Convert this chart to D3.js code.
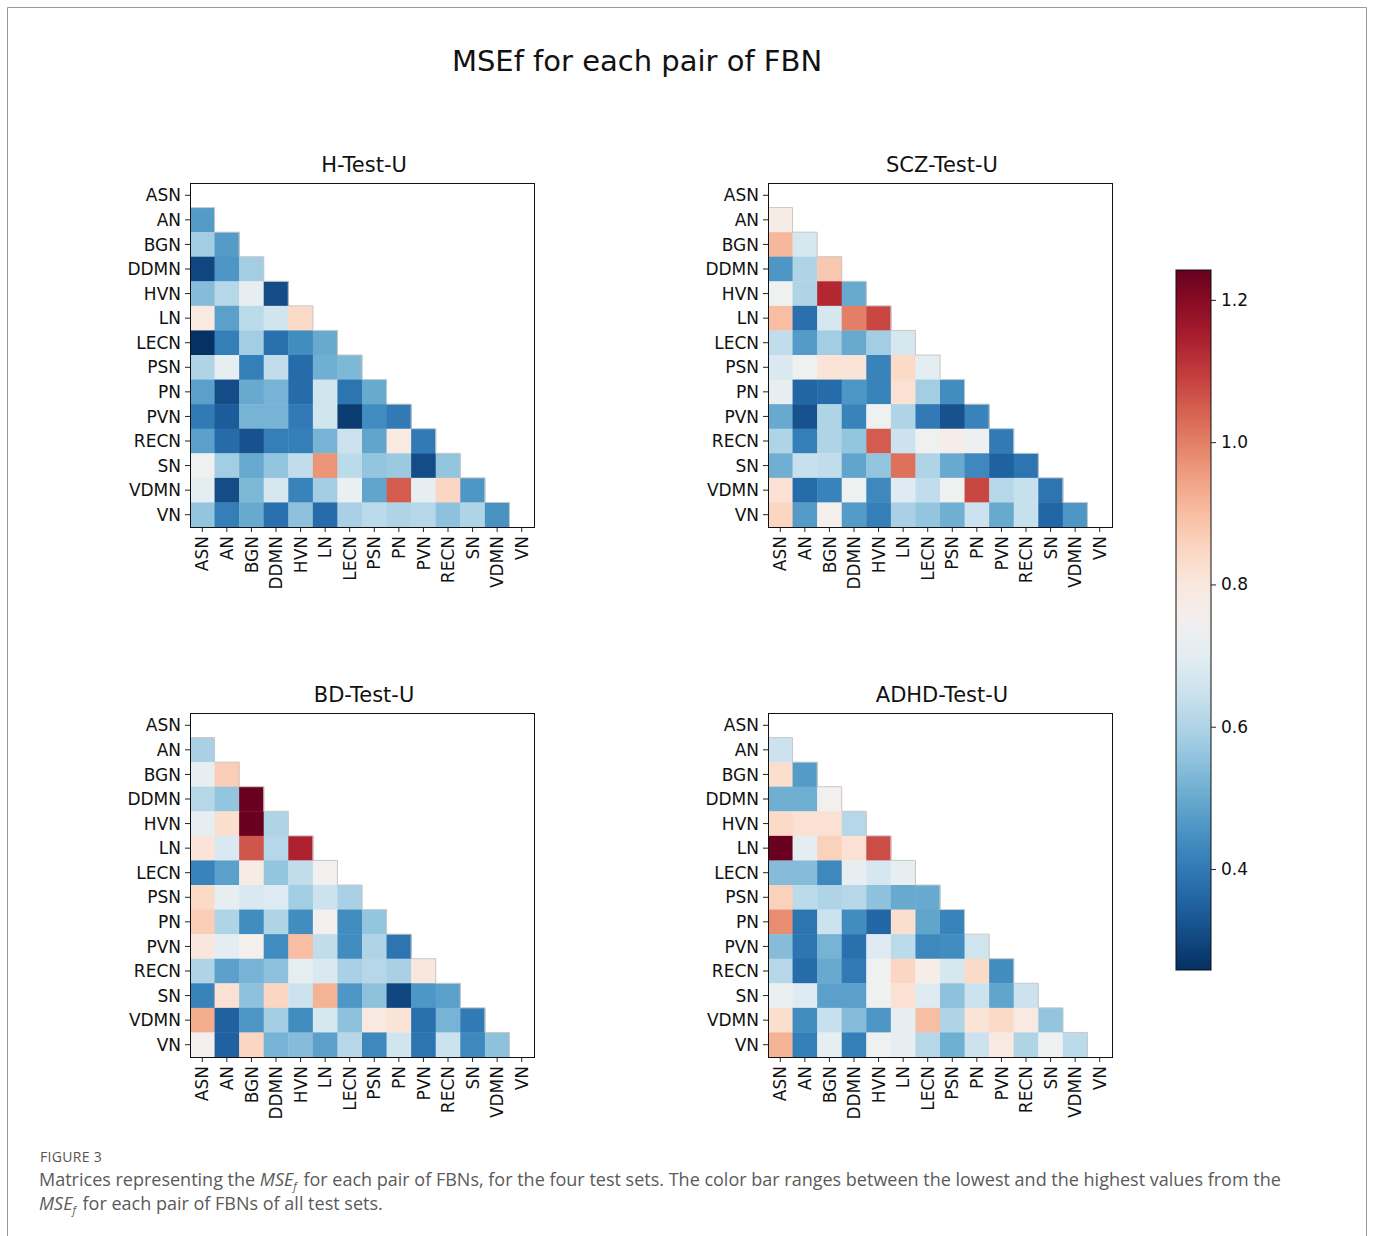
<!DOCTYPE html>
<html>
<head>
<meta charset="utf-8">
<script src="https://cdn.jsdelivr.net/npm/d3@7"></script>
<style>
  html, body { margin: 0; padding: 0; background: #fff; }
  svg { display: block; }
</style>
</head>
<body>
<svg id="fig" width="1373" height="1236"></svg>
<script>
// Functional brain networks (row/column order of every matrix)
const networks = ["ASN", "AN", "BGN", "DDMN", "HVN", "LN", "LECN", "PSN", "PN", "PVN", "RECN", "SN", "VDMN", "VN"];

// Lower-triangle MSEf values: row i holds pairs (i, 0..i-1), starting at AN
const hTestU = [
  [0.47],
  [0.58, 0.47],
  [0.30, 0.46, 0.58],
  [0.54, 0.61, 0.71, 0.31],
  [0.79, 0.48, 0.62, 0.66, 0.84],
  [0.26, 0.41, 0.58, 0.38, 0.44, 0.50],
  [0.60, 0.71, 0.41, 0.63, 0.37, 0.51, 0.53],
  [0.48, 0.31, 0.50, 0.52, 0.37, 0.66, 0.39, 0.50],
  [0.40, 0.34, 0.52, 0.52, 0.40, 0.66, 0.28, 0.44, 0.40],
  [0.48, 0.37, 0.32, 0.41, 0.41, 0.52, 0.65, 0.49, 0.79, 0.40],
  [0.74, 0.58, 0.50, 0.56, 0.63, 0.97, 0.62, 0.56, 0.57, 0.31, 0.56],
  [0.70, 0.31, 0.53, 0.67, 0.42, 0.58, 0.72, 0.49, 1.05, 0.71, 0.85, 0.46],
  [0.56, 0.41, 0.50, 0.38, 0.55, 0.37, 0.59, 0.62, 0.60, 0.61, 0.55, 0.60, 0.45]
];
const sczTestU = [
  [0.78],
  [0.91, 0.67],
  [0.46, 0.60, 0.88],
  [0.74, 0.60, 1.13, 0.50],
  [0.90, 0.38, 0.67, 1.00, 1.08],
  [0.63, 0.47, 0.58, 0.50, 0.58, 0.67],
  [0.68, 0.74, 0.81, 0.81, 0.42, 0.84, 0.70],
  [0.71, 0.36, 0.37, 0.46, 0.42, 0.82, 0.58, 0.44],
  [0.50, 0.32, 0.60, 0.42, 0.74, 0.60, 0.40, 0.32, 0.42],
  [0.60, 0.41, 0.60, 0.56, 1.05, 0.65, 0.74, 0.77, 0.73, 0.40],
  [0.51, 0.64, 0.63, 0.49, 0.56, 1.02, 0.60, 0.50, 0.43, 0.35, 0.39],
  [0.82, 0.37, 0.42, 0.74, 0.43, 0.69, 0.63, 0.74, 1.08, 0.61, 0.64, 0.39],
  [0.85, 0.47, 0.76, 0.47, 0.41, 0.59, 0.56, 0.51, 0.65, 0.50, 0.64, 0.36, 0.46]
];
const bdTestU = [
  [0.59],
  [0.71, 0.87],
  [0.61, 0.56, 1.24],
  [0.71, 0.83, 1.24, 0.60],
  [0.81, 0.68, 1.06, 0.61, 1.14],
  [0.42, 0.48, 0.78, 0.56, 0.63, 0.75],
  [0.84, 0.71, 0.68, 0.69, 0.58, 0.65, 0.59],
  [0.87, 0.60, 0.44, 0.60, 0.44, 0.75, 0.44, 0.56],
  [0.80, 0.70, 0.76, 0.44, 0.90, 0.63, 0.44, 0.60, 0.39],
  [0.60, 0.48, 0.52, 0.55, 0.71, 0.68, 0.59, 0.61, 0.59, 0.80],
  [0.42, 0.82, 0.55, 0.85, 0.65, 0.92, 0.46, 0.55, 0.30, 0.46, 0.48],
  [0.93, 0.35, 0.46, 0.58, 0.44, 0.67, 0.55, 0.79, 0.81, 0.38, 0.52, 0.40],
  [0.75, 0.35, 0.85, 0.52, 0.54, 0.48, 0.61, 0.43, 0.66, 0.39, 0.65, 0.43, 0.55]
];
const adhdTestU = [
  [0.65],
  [0.83, 0.47],
  [0.51, 0.51, 0.75],
  [0.84, 0.82, 0.82, 0.61],
  [1.24, 0.70, 0.86, 0.82, 1.07],
  [0.54, 0.54, 0.43, 0.71, 0.67, 0.71],
  [0.86, 0.62, 0.60, 0.61, 0.55, 0.50, 0.50],
  [0.98, 0.39, 0.65, 0.44, 0.36, 0.83, 0.49, 0.42],
  [0.54, 0.39, 0.52, 0.38, 0.69, 0.62, 0.43, 0.44, 0.66],
  [0.61, 0.37, 0.50, 0.40, 0.74, 0.85, 0.77, 0.67, 0.84, 0.44],
  [0.72, 0.69, 0.48, 0.48, 0.74, 0.82, 0.69, 0.55, 0.65, 0.49, 0.65],
  [0.83, 0.44, 0.64, 0.54, 0.46, 0.71, 0.90, 0.60, 0.81, 0.84, 0.79, 0.56],
  [0.92, 0.41, 0.71, 0.41, 0.74, 0.71, 0.61, 0.51, 0.65, 0.79, 0.60, 0.74, 0.62]
];

const panelTitles = ["H-Test-U", "SCZ-Test-U", "BD-Test-U", "ADHD-Test-U"];
const panelData = [hTestU, sczTestU, bdTestU, adhdTestU];

// Shared colour range (lowest / highest MSEf over all test sets)
const colorDomain = [0.258, 1.242];
const colorTicks = [0.4, 0.6, 0.8, 1.0, 1.2];

const svg = d3.select("#fig");
const font = "'DejaVu Sans', sans-serif";
const color = d3.scaleSequential(t => d3.interpolateRdBu(1 - t)).domain(colorDomain);

// Outer figure frame
svg.append("path")
  .attr("d", "M7.5,1240 V7.5 H1366.5 V1240")
  .attr("fill", "none").attr("stroke", "#9a9a9a").attr("stroke-width", 1);

// Main title
svg.append("text")
  .attr("x", 637).attr("y", 71)
  .attr("text-anchor", "middle")
  .attr("font-family", font).attr("font-size", 29).attr("fill", "#111")
  .text("MSEf for each pair of FBN");

const panelOrigins = [[190, 183], [768, 183], [190, 713], [768, 713]];
const size = 344;

panelData.forEach((rows, p) => {
  const [ox, oy] = panelOrigins[p];
  const g = svg.append("g").attr("transform", `translate(${ox},${oy})`);
  const x = d3.scaleBand().domain(networks).range([0, size]);
  const y = d3.scaleBand().domain(networks).range([0, size]);

  const cells = [];
  rows.forEach((vals, r) => {
    vals.forEach((v, c) => cells.push({ row: networks[r + 1], col: networks[c], value: v }));
  });

  g.selectAll("rect.cell").data(cells).join("rect")
    .attr("class", "cell")
    .attr("x", d => x(d.col)).attr("y", d => y(d.row))
    .attr("width", x.bandwidth() + 0.4).attr("height", y.bandwidth() + 0.4)
    .attr("fill", d => color(d.value));

  // faint staircase edge along the masked upper triangle
  let stair = `M0,${y(networks[1])}`;
  for (let r = 1; r < networks.length; r++) {
    const xr = x(networks[r]);
    stair += ` H${xr} V${y(networks[r]) + y.bandwidth()}`;
  }
  g.append("path").attr("d", stair)
    .attr("fill", "none").attr("stroke", "#c8c8c8").attr("stroke-width", 1);

  // axes
  const ya = g.append("g").call(d3.axisLeft(y).tickSize(5).tickPadding(4));
  const xa = g.append("g").attr("transform", `translate(0,${size})`)
    .call(d3.axisBottom(x).tickSize(5).tickPadding(4));
  [ya, xa].forEach(a => {
    a.select(".domain").remove();
    a.selectAll("line").attr("stroke", "#222");
    a.selectAll("text").attr("font-family", font).attr("font-size", 17).attr("fill", "#111");
  });
  ya.selectAll("text").attr("dy", "0.36em");
  xa.selectAll("text")
    .attr("transform", "rotate(-90)")
    .attr("text-anchor", "end")
    .attr("y", 0).attr("x", -9)
    .attr("dy", "0.36em");

  g.append("rect").attr("x", 0.5).attr("y", 0.5).attr("width", size).attr("height", size)
    .attr("fill", "none").attr("stroke", "#111").attr("stroke-width", 1);

  g.append("text")
    .attr("x", size / 2 + 2).attr("y", -11)
    .attr("text-anchor", "middle")
    .attr("font-family", font).attr("font-size", 21).attr("fill", "#111")
    .text(panelTitles[p]);
});

// Colour bar
const cbX = 1176, cbY = 270, cbW = 35, cbH = 700;
const defs = svg.append("defs");
const grad = defs.append("linearGradient").attr("id", "cbar")
  .attr("x1", 0).attr("y1", 1).attr("x2", 0).attr("y2", 0);
d3.range(0, 1.0001, 0.05).forEach(t => {
  grad.append("stop").attr("offset", t)
    .attr("stop-color", color(colorDomain[0] + t * (colorDomain[1] - colorDomain[0])));
});
svg.append("rect").attr("x", cbX).attr("y", cbY).attr("width", cbW).attr("height", cbH)
  .attr("fill", "url(#cbar)").attr("stroke", "#111").attr("stroke-width", 1);
const cbScale = d3.scaleLinear().domain(colorDomain).range([cbY + cbH, cbY]);
const cbAxis = svg.append("g").attr("transform", `translate(${cbX + cbW},0)`)
  .call(d3.axisRight(cbScale).tickValues(colorTicks).tickFormat(d3.format(".1f")).tickSize(5).tickPadding(5));
cbAxis.select(".domain").remove();
cbAxis.selectAll("line").attr("stroke", "#222");
cbAxis.selectAll("text").attr("font-family", font).attr("font-size", 17).attr("fill", "#111");

// Caption
const capFont = "'Open Sans', 'Noto Sans', sans-serif";
svg.append("text").attr("x", 40).attr("y", 1162)
  .attr("font-family", capFont).attr("font-size", 14).attr("letter-spacing", 0.3).attr("fill", "#555")
  .text("FIGURE 3");

// caption line with an italic MSE and a lowered subscript f
function captionLine(yPos, before, after) {
  const t = svg.append("text").attr("x", 39).attr("y", yPos)
    .attr("font-family", capFont).attr("font-size", 18).attr("fill", "#5a5a5a");
  if (before) t.append("tspan").text(before);
  t.append("tspan").attr("font-style", "italic").text("MSE");
  t.append("tspan").attr("font-style", "italic").attr("font-size", 11).attr("dy", 4).text("f");
  t.append("tspan").attr("dy", -4).attr("dx", 2).text(after);
}
captionLine(1186, "Matrices representing the ",
  " for each pair of FBNs, for the four test sets. The color bar ranges between the lowest and the highest values from the");
captionLine(1210, "", " for each pair of FBNs of all test sets.");
</script>
</body>
</html>
